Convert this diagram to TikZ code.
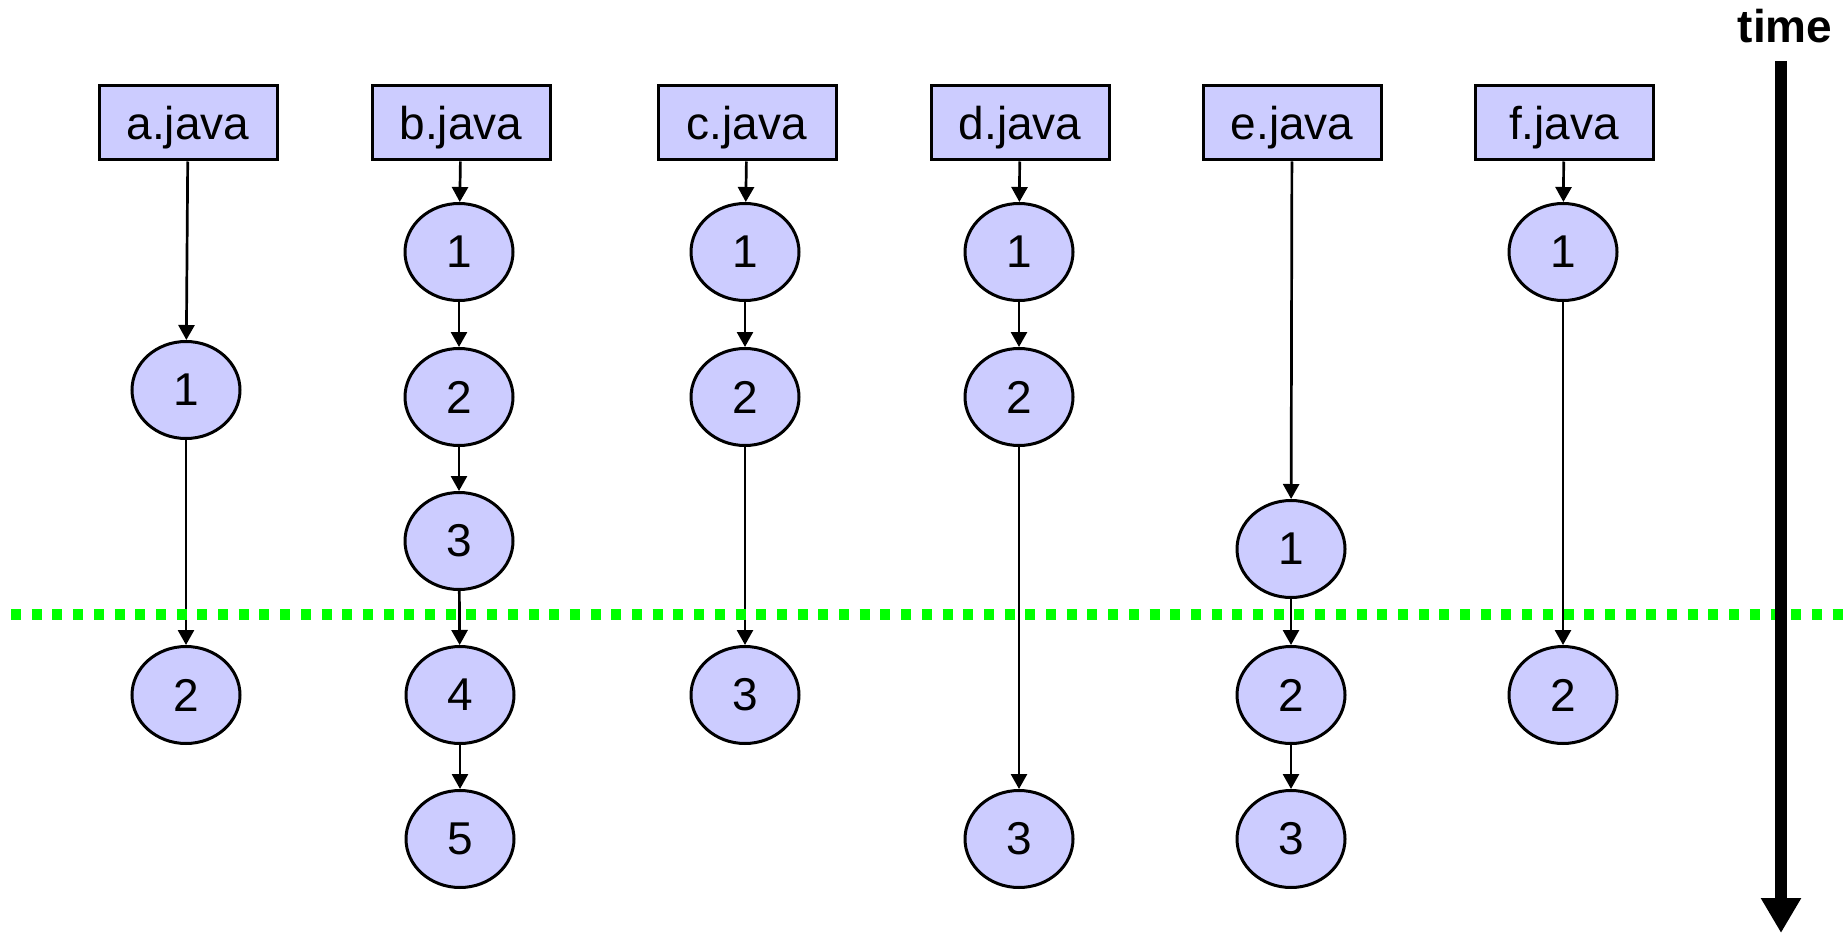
\documentclass[tikz,border=0pt]{standalone}
\usepackage{fontspec}
\setmainfont{Liberation Sans}
\usetikzlibrary{arrows.meta,shapes.geometric}
\definecolor{nodefill}{HTML}{CCCCFF}
\definecolor{cutgreen}{HTML}{00FF00}
\tikzset{
  filebox/.style={draw=black, line width=3pt, fill=nodefill, rectangle,
    minimum width=178pt, minimum height=74pt, inner sep=0pt, text depth=0pt,
    font=\fontsize{46}{52}\selectfont},
  version/.style={draw=black, line width=3pt, fill=nodefill, ellipse,
    minimum width=108pt, minimum height=97pt, inner sep=0pt,
    font=\fontsize{46}{52}\selectfont},
  link/.style={draw=black, line width=2.7pt, -{Triangle[length=15pt,width=16pt]}},
  cutline/.style={draw=cutgreen, line width=11pt, dash pattern=on 10pt off 10.7pt},
  timeaxis/.style={draw=black, line width=12pt, -{Triangle[length=35pt,width=38pt]}}
}
\begin{document}
\begin{tikzpicture}[x=1pt,y=-1pt]
\useasboundingbox (0,0) rectangle (1847,933);

% file headers
\node[filebox] (fa) at (188,123) {a.java};
\node[filebox] (fb) at (461,123) {b.java};
\node[filebox] (fc) at (747,123) {c.java};
\node[filebox] (fd) at (1020,123) {d.java};
\node[filebox] (fe) at (1292,123) {e.java};
\node[filebox] (ff) at (1564,123) {f.java};

% revisions of each file
\node[version] (a1) at (186,390) {1};
\node[version] (a2) at (186,695) {2};

\node[version] (b1) at (459,252) {1};
\node[version] (b2) at (459,397) {2};
\node[version] (b3) at (459,541) {3};
\node[version] (b4) at (460,695) {4};
\node[version] (b5) at (460,839) {5};

\node[version] (c1) at (745,252) {1};
\node[version] (c2) at (745,397) {2};
\node[version] (c3) at (745,695) {3};

\node[version] (d1) at (1019,252) {1};
\node[version] (d2) at (1019,397) {2};
\node[version] (d3) at (1019,839) {3};

\node[version] (e1) at (1291,549) {1};
\node[version] (e2) at (1291,695) {2};
\node[version] (e3) at (1291,839) {3};

\node[version] (f1) at (1563,252) {1};
\node[version] (f2) at (1563,695) {2};

% revision chains
\draw[link] (fa) -- (a1);
\draw[link] (a1) -- (a2);

\draw[link] (fb) -- (b1);
\draw[link] (b1) -- (b2);
\draw[link] (b2) -- (b3);
\draw[link] (b3) -- (b4);
\draw[link] (b4) -- (b5);

\draw[link] (fc) -- (c1);
\draw[link] (c1) -- (c2);
\draw[link] (c2) -- (c3);

\draw[link] (fd) -- (d1);
\draw[link] (d1) -- (d2);
\draw[link] (d2) -- (d3);

\draw[link] (fe) -- (e1);
\draw[link] (e1) -- (e2);
\draw[link] (e2) -- (e3);

\draw[link] (ff) -- (f1);
\draw[link] (f1) -- (f2);

% cut through the history
\coordinate (cutL) at (11,614);
\coordinate (cutR) at (1847,614);
\draw[cutline] (cutL) -- (cutR);

% time axis
\node[font=\fontsize{46}{52}\selectfont\bfseries] (timelbl) at (1785,26) {time};
\coordinate (tTop) at (1781,61);
\coordinate (tBot) at (1781,933);
\draw[timeaxis] (tTop) -- (tBot);
\end{tikzpicture}
\end{document}
